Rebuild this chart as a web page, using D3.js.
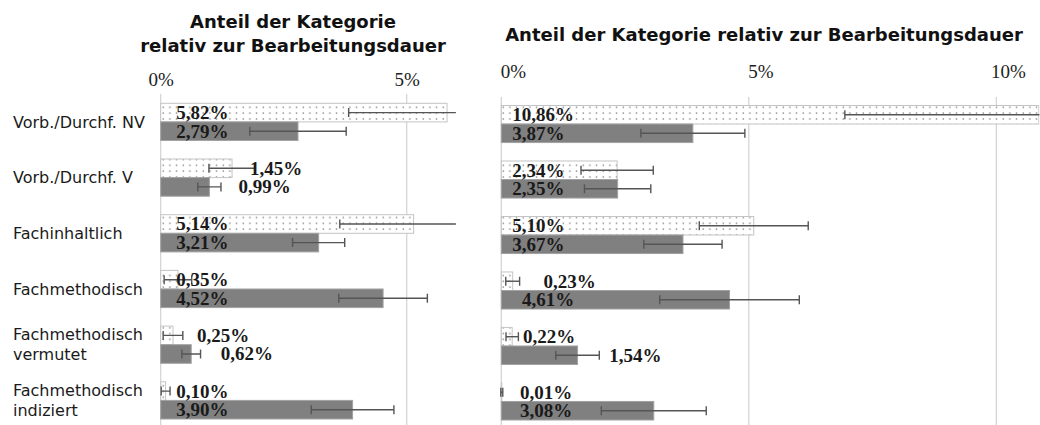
<!DOCTYPE html>
<html>
<head>
<meta charset="utf-8">
<script src="https://cdn.jsdelivr.net/npm/d3@7"></script>
<style>
  html, body { margin: 0; padding: 0; background: #fff; }
  svg { display: block; }
</style>
</head>
<body>
<svg id="chart" width="1040" height="425"></svg>
<script>
// ---- Data ----
const categories = ["Vorb./Durchf. NV", "Vorb./Durchf. V", "Fachinhaltlich", "Fachmethodisch", "Fachmethodisch vermutet", "Fachmethodisch indiziert"];
const categoryLines = [["Vorb./Durchf. NV"], ["Vorb./Durchf. V"], ["Fachinhaltlich"], ["Fachmethodisch"], ["Fachmethodisch", "vermutet"], ["Fachmethodisch", "indiziert"]];

const titleLeft = ["Anteil der Kategorie", "relativ zur Bearbeitungsdauer"];
const titleRight = ["Anteil der Kategorie relativ zur Bearbeitungsdauer"];

const leftTicks = [0, 5];
const rightTicks = [0, 5, 10];

// left panel
const leftDotted = [5.82, 1.45, 5.14, 0.35, 0.25, 0.10];
const leftDottedErr = [2.0, 0.47, 1.5, 0.28, 0.2, 0.09];
const leftGray = [2.79, 0.99, 3.21, 4.52, 0.62, 3.90];
const leftGrayErr = [0.98, 0.235, 0.53, 0.9, 0.19, 0.84];
// right panel
const rightDotted = [10.86, 2.34, 5.10, 0.23, 0.22, 0.01];
const rightDottedErr = [3.92, 0.73, 1.1, 0.14, 0.125, 0.02];
const rightGray = [3.87, 2.35, 3.67, 4.61, 1.54, 3.08];
const rightGrayErr = [1.05, 0.67, 0.79, 1.41, 0.44, 1.06];

// where value labels start (in % units; null = default inside position)
const leftDottedLabelAt = [null, 1.815, null, null, 0.74, null];
const leftGrayLabelAt = [null, 1.58, null, null, 1.22, null];
const rightDottedLabelAt = [null, null, null, 0.85, 0.44, 0.38];
const rightGrayLabelAt = [null, null, null, 0.42, 2.18, 0.38];

// ---- Drawing ----
const svg = d3.select("#chart");
const defs = svg.append("defs");
const pat = defs.append("pattern").attr("id", "dots")
  .attr("patternUnits", "userSpaceOnUse")
  .attr("width", 20/3).attr("height", 5.8);
pat.append("rect").attr("width", 20/3).attr("height", 5.8).attr("fill", "#fff");
pat.append("rect").attr("x", 2.6).attr("y", 2.3).attr("width", 1.3).attr("height", 1.3).attr("fill", "#6e6e6e");

const fmt = v => d3.format(".2f")(v).replace(".", ",") + "%";

function panel(cfg) {
  const x = d3.scaleLinear().domain(cfg.domain).range(cfg.range);
  const y = d3.scaleBand().domain(categories).range(cfg.yRange).paddingInner(0.332).paddingOuter(0);
  const g = svg.append("g");
  const bw = y.bandwidth() / 2;

  // grid
  g.selectAll("line.grid").data(cfg.ticks).join("line")
    .attr("x1", d => x(d)).attr("x2", d => x(d))
    .attr("y1", cfg.gridTop).attr("y2", 425)
    .attr("stroke", "#d2d2d2").attr("stroke-width", 1.2);

  // tick labels via axis
  const ax = g.append("g").attr("transform", `translate(0,${cfg.tickY})`)
    .call(d3.axisTop(x).tickValues(cfg.ticks).tickFormat(d => d + "%").tickSize(0).tickPadding(0));
  ax.select(".domain").remove();
  ax.selectAll("text")
    .attr("font-family", "'Liberation Serif', serif").attr("font-size", 19)
    .attr("fill", "#222").attr("dy", 0).attr("dx", cfg.tickDx);

  // title
  const t = g.append("text").attr("text-anchor", "middle")
    .attr("font-family", "'DejaVu Sans', sans-serif").attr("font-weight", "bold")
    .attr("font-size", 18).attr("fill", "#111");
  cfg.title.forEach((line, i) => {
    t.append("tspan").attr("x", cfg.titleX).attr("y", cfg.titleY + i * 23.3).text(line);
  });

  const clipId = "clip" + cfg.id;
  defs.append("clipPath").attr("id", clipId).append("rect")
    .attr("x", cfg.range[0] - 15).attr("y", 0)
    .attr("width", cfg.range[1] - cfg.range[0] + 15).attr("height", 425);
  const plot = g.append("g").attr("clip-path", `url(#${clipId})`);

  const series = [
    { vals: cfg.dotted, errs: cfg.dottedErr, off: 0, fill: "url(#dots)", stroke: "#c4c4c4", lab: cfg.dottedLabelAt },
    { vals: cfg.gray, errs: cfg.grayErr, off: bw, fill: "#808080", stroke: "#a2a2a2", lab: cfg.grayLabelAt }
  ];

  series.forEach(s => {
    const rows = categories.map((c, i) => ({ c, v: s.vals[i], e: s.errs[i], l: s.lab[i] }));
    plot.selectAll(null).data(rows).join("rect")
      .attr("x", x(0)).attr("y", d => y(d.c) + s.off)
      .attr("width", d => x(d.v) - x(0)).attr("height", bw)
      .attr("fill", s.fill).attr("stroke", s.stroke).attr("stroke-width", 1);
  });

  series.forEach(s => {
    const rows = categories.map((c, i) => ({ c, v: s.vals[i], e: s.errs[i], l: s.lab[i] }));
    const eb = plot.selectAll(null).data(rows).join("g")
      .attr("transform", d => `translate(0,${y(d.c) + s.off + bw / 2})`)
      .attr("stroke", "#555").attr("stroke-width", 1.4);
    eb.append("line").attr("x1", d => x(d.v - d.e)).attr("x2", d => x(d.v + d.e)).attr("y1", 0).attr("y2", 0);
    eb.append("line").attr("x1", d => x(d.v - d.e)).attr("x2", d => x(d.v - d.e)).attr("y1", -4.5).attr("y2", 4.5);
    eb.append("line").attr("x1", d => x(d.v + d.e)).attr("x2", d => x(d.v + d.e)).attr("y1", -4.5).attr("y2", 4.5);
  });

  series.forEach(s => {
    const rows = categories.map((c, i) => ({ c, v: s.vals[i], e: s.errs[i], l: s.lab[i] }));
    g.selectAll(null).data(rows).join("text")
      .attr("x", d => d.l === null ? x(0) + cfg.labelDx : x(d.l))
      .attr("y", d => y(d.c) + s.off + bw / 2 + 6.5)
      .attr("font-family", "'Liberation Serif', serif").attr("font-weight", "bold")
      .attr("font-size", 19).attr("fill", "#1a1a1a")
      .text(d => fmt(d.v));
  });
  return y;
}

const yL = panel({
  id: "L", domain: [0, 6], range: [160.7, 455.9], yRange: [103.3, 419],
  ticks: leftTicks, tickY: 86, tickDx: 0, gridTop: 94,
  title: titleLeft, titleX: 293, titleY: 28.3,
  dotted: leftDotted, dottedErr: leftDottedErr, gray: leftGray, grayErr: leftGrayErr,
  dottedLabelAt: leftDottedLabelAt, grayLabelAt: leftGrayLabelAt, labelDx: 15.5
});
panel({
  id: "R", domain: [0, 10.87], range: [501.3, 1039.4], yRange: [105.5, 420],
  ticks: rightTicks, tickY: 78, tickDx: 11.5, gridTop: 97,
  title: titleRight, titleX: 764, titleY: 40.5,
  dotted: rightDotted, dottedErr: rightDottedErr, gray: rightGray, grayErr: rightGrayErr,
  dottedLabelAt: rightDottedLabelAt, grayLabelAt: rightGrayLabelAt, labelDx: 11
});

// category labels
const cl = svg.append("g");
categories.forEach((c, i) => {
  const lines = categoryLines[i];
  const cy = yL(c) + yL.bandwidth() / 2;
  const t = cl.append("text").attr("font-family", "'DejaVu Sans', sans-serif")
    .attr("font-size", 16).attr("fill", "#1a1a1a");
  lines.forEach((ln, j) => {
    const off = lines.length === 1 ? 0 : (j === 0 ? -10 : 10);
    t.append("tspan").attr("x", 13).attr("y", cy + off + 5.8).text(ln);
  });
});
</script>
</body>
</html>
